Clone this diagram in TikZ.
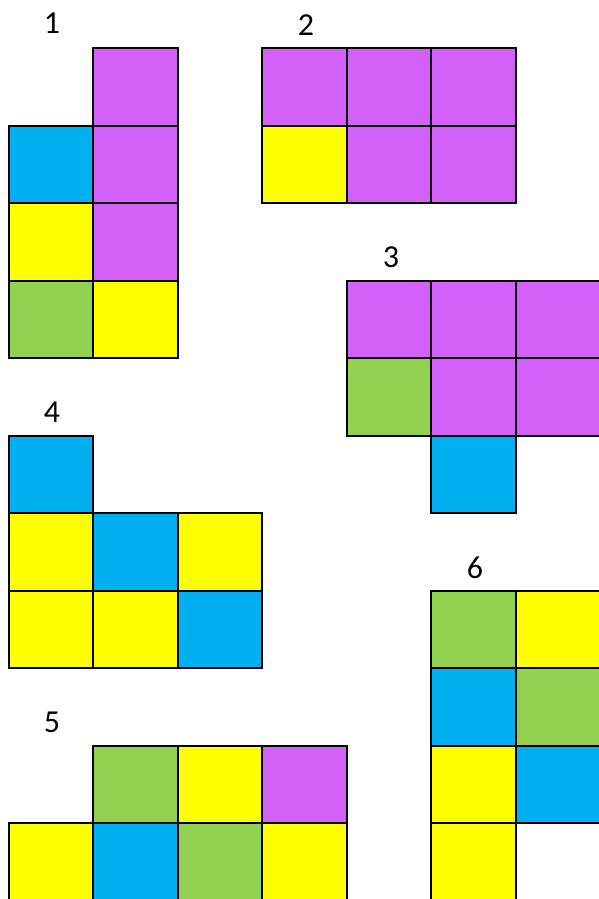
\documentclass[tikz,border=0pt]{standalone}
\usepackage{fontspec}
\setmainfont{Carlito}
\definecolor{cpurple}{RGB}{212,96,250}
\definecolor{cblue}{RGB}{0,176,240}
\definecolor{cyellow}{RGB}{255,255,0}
\definecolor{cgreen}{RGB}{146,208,80}
\tikzset{
  cellbox/.style={fill=#1, inner sep=0pt, outer sep=0pt, anchor=north west},
  cellline/.style={draw=black, line width=2pt},
  numlabel/.style={font=\fontsize{32}{36}\selectfont, inner sep=0pt, text=black}
}
\newcommand{\gcell}[4]{%
  \pgfmathsetmacro{\xa}{{9,93,178,262,347,431,516,600,685}[#2]}%
  \pgfmathsetmacro{\xb}{{9,93,178,262,347,431,516,600,685}[#2+1]}%
  \pgfmathsetmacro{\ya}{{48,126,203,281,358,436,513,591,668,746,823,900,978}[#3]}%
  \pgfmathsetmacro{\yb}{{48,126,203,281,358,436,513,591,668,746,823,900,978}[#3+1]}%
  \node[cellbox=#4, minimum width={(\xb-\xa)*1pt}, minimum height={(\yb-\ya)*1pt}] (#1) at (\xa,\ya) {};}
\begin{document}
\begin{tikzpicture}[x=1pt,y=-1pt]
\useasboundingbox (0,0) rectangle (599,899);
\clip (0,0) rectangle (599,899);
\fill[white] (0,0) rectangle (599,899);
% labels
\node[numlabel] (l1) at (52,23) {1};
\node[numlabel] (l2) at (306,25) {2};
\node[numlabel] (l3) at (391,257) {3};
\node[numlabel] (l4) at (52,412) {4};
\node[numlabel] (l5) at (52,722) {5};
\node[numlabel] (l6) at (475,568) {6};
% shape 1
\gcell{a1}{1}{0}{cpurple}
\gcell{a2}{0}{1}{cblue}
\gcell{a3}{1}{1}{cpurple}
\gcell{a4}{0}{2}{cyellow}
\gcell{a5}{1}{2}{cpurple}
\gcell{a6}{0}{3}{cgreen}
\gcell{a7}{1}{3}{cyellow}
% shape 2
\gcell{b1}{3}{0}{cpurple}
\gcell{b2}{4}{0}{cpurple}
\gcell{b3}{5}{0}{cpurple}
\gcell{b4}{3}{1}{cyellow}
\gcell{b5}{4}{1}{cpurple}
\gcell{b6}{5}{1}{cpurple}
% shape 3
\gcell{c1}{4}{3}{cpurple}
\gcell{c2}{5}{3}{cpurple}
\gcell{c3}{6}{3}{cpurple}
\gcell{c4}{4}{4}{cgreen}
\gcell{c5}{5}{4}{cpurple}
\gcell{c6}{6}{4}{cpurple}
\gcell{c7}{5}{5}{cblue}
% shape 4
\gcell{d1}{0}{5}{cblue}
\gcell{d2}{0}{6}{cyellow}
\gcell{d3}{1}{6}{cblue}
\gcell{d4}{2}{6}{cyellow}
\gcell{d5}{0}{7}{cyellow}
\gcell{d6}{1}{7}{cyellow}
\gcell{d7}{2}{7}{cblue}
% shape 5
\gcell{e1}{1}{9}{cgreen}
\gcell{e2}{2}{9}{cyellow}
\gcell{e3}{3}{9}{cpurple}
\gcell{e4}{0}{10}{cyellow}
\gcell{e5}{1}{10}{cblue}
\gcell{e6}{2}{10}{cgreen}
\gcell{e7}{3}{10}{cyellow}
% shape 6
\gcell{f1}{5}{7}{cgreen}
\gcell{f2}{6}{7}{cyellow}
\gcell{f3}{5}{8}{cblue}
\gcell{f4}{6}{8}{cgreen}
\gcell{f5}{5}{9}{cyellow}
\gcell{f6}{6}{9}{cblue}
\gcell{f7}{5}{10}{cyellow}
% borders drawn over all fills
\foreach \n in {a1,a2,a3,a4,a5,a6,a7,b1,b2,b3,b4,b5,b6,c1,c2,c3,c4,c5,c6,c7,d1,d2,d3,d4,d5,d6,d7,e1,e2,e3,e4,e5,e6,e7,f1,f2,f3,f4,f5,f6,f7}
  \draw[cellline] (\n.north west) rectangle (\n.south east);
\end{tikzpicture}
\end{document}
